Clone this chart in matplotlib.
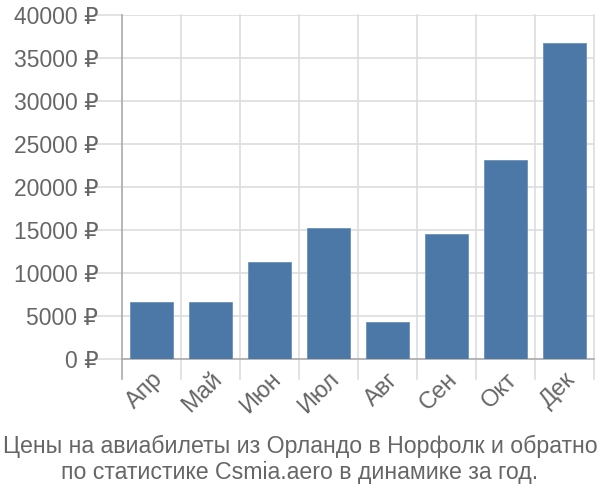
import matplotlib

matplotlib.use("Agg")
import matplotlib.pyplot as plt
from matplotlib.ticker import FuncFormatter, MultipleLocator

plt.rcParams["font.family"] = ["Liberation Sans", "DejaVu Sans"]

months = ["Апр", "Май", "Июн", "Июл", "Авг", "Сен", "Окт", "Дек"]
prices = [6630, 6630, 11200, 15150, 4300, 14500, 23110, 36750]
title = ("Цены на авиабилеты из Орландо в Норфолк и обратно\n"
         "по статистике Csmia.aero в динамике за год.")

grid_color = "#dddddd"
axis_color = "#aaaaaa"
text_color = "#666666"

fig = plt.figure(figsize=(6, 5), dpi=100)
ax = fig.add_axes([0.2033, 0.2826, 0.7867, 0.688])

x = range(len(months))
ax.bar(x, prices, width=0.72, color="#4c78a8", edgecolor="#6b90bb",
       linewidth=0.6, zorder=3)

ax.set_xlim(-0.5, len(months) - 0.5)
ax.set_ylim(0, 40000)
ax.yaxis.set_major_locator(MultipleLocator(5000))
ax.yaxis.set_major_formatter(FuncFormatter(lambda v, _: f"{int(v)} ₽"))

# vertical grid lines sit on category boundaries
bounds = [i - 0.5 for i in range(len(months) + 1)]
for b in bounds[1:]:
    ax.axvline(b, color=grid_color, lw=1.2, zorder=1, clip_on=False,
               ymin=-0.058, ymax=1)
ax.yaxis.grid(True, color=grid_color, lw=1.2, zorder=1)

ax.set_xticks(x)
ax.set_xticklabels(months, rotation=45, ha="right", rotation_mode="anchor")
ax.tick_params(axis="x", length=0, pad=7, labelsize=17, colors=text_color)
ax.tick_params(axis="y", length=20, width=1.2, color=grid_color,
               labelsize=16.5, labelcolor=text_color, pad=-3)

for side in ("top", "right"):
    ax.spines[side].set_visible(False)
ax.spines["left"].set_color(axis_color)
ax.spines["left"].set_linewidth(1.2)
ax.spines["left"].set_bounds(0, 40000)
ax.spines["bottom"].set_color(axis_color)
ax.spines["bottom"].set_linewidth(1.2)
ax.axvline(-0.5, color=axis_color, lw=1.2, ymin=-0.058, ymax=0,
           clip_on=False, zorder=4)

fig.text(0.5, 0.033, title, ha="center", va="bottom", fontsize=16.7,
         color=text_color, linespacing=1.15)

fig.savefig("out.png", dpi=100)
